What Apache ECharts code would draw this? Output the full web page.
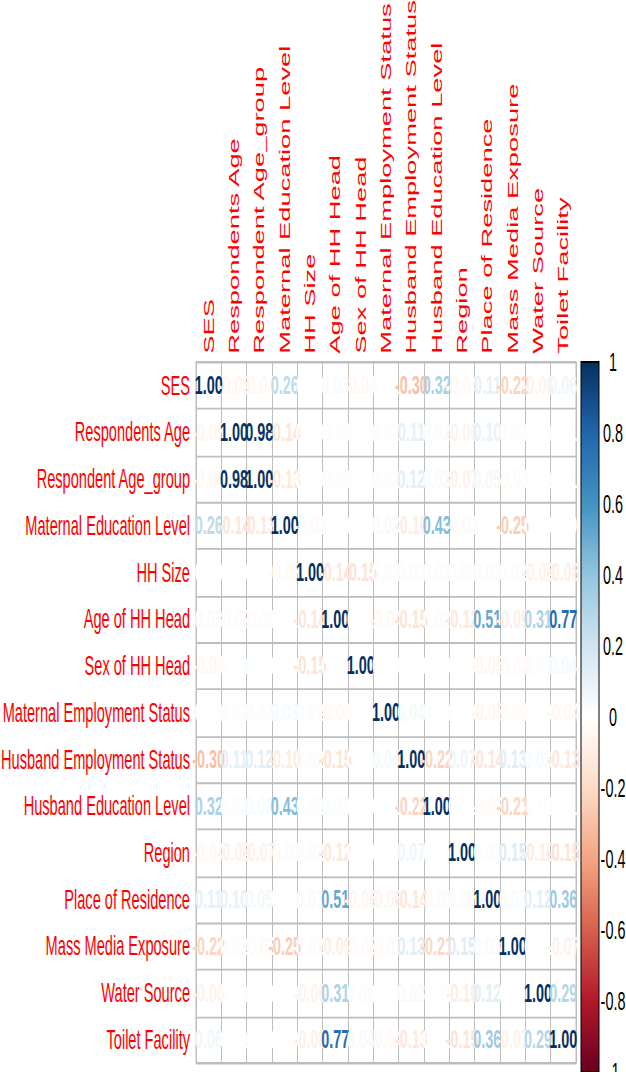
<!DOCTYPE html>
<html>
<head>
<meta charset="utf-8">
<script src="https://cdn.jsdelivr.net/npm/echarts@6/dist/echarts.min.js"></script>
<style>
  html, body { margin: 0; padding: 0; background: #fff; overflow: hidden; }
  #wrap { width: 626px; height: 1072px; overflow: hidden; position: relative; }
  #chart { width: 626px; height: 581px; transform-origin: 0 0; transform: scale(1, 1.84509); }
</style>
</head>
<body>
<div id="wrap"><div id="chart"></div></div>
<script>
// ---- data ----
const variables = [
  "SES", "Respondents Age", "Respondent Age_group", "Maternal Education Level",
  "HH Size", "Age of HH Head", "Sex of HH Head", "Maternal Employment Status",
  "Husband Employment Status", "Husband Education Level", "Region",
  "Place of Residence", "Mass Media Exposure", "Water Source", "Toilet Facility"
];
// lower triangle of the correlation matrix (row i holds columns 0..i)
const corrLower = [
  [1.00],
  [-0.05, 1.00],
  [-0.04, 0.98, 1.00],
  [0.26, -0.14, -0.13, 1.00],
  [0.00, 0.00, 0.00, -0.03, 1.00],
  [0.03, -0.02, -0.02, 0.01, -0.14, 1.00],
  [-0.04, 0.01, 0.01, 0.00, -0.15, 0.01, 1.00],
  [0.01, 0.02, 0.02, 0.03, 0.02, -0.04, 0.00, 1.00],
  [-0.30, 0.11, 0.12, -0.10, 0.02, -0.15, 0.01, 0.04, 1.00],
  [0.32, 0.02, 0.03, 0.43, 0.02, 0.02, 0.00, 0.01, -0.22, 1.00],
  [-0.04, -0.06, -0.07, -0.03, 0.02, -0.12, 0.00, 0.00, 0.07, 0.01, 1.00],
  [0.11, 0.10, 0.05, 0.01, 0.03, 0.51, -0.05, -0.05, -0.14, -0.03, 0.02, 1.00],
  [-0.22, 0.02, -0.03, -0.25, 0.02, -0.09, -0.03, -0.02, 0.13, -0.21, 0.15, 0.03, 1.00],
  [-0.06, 0.01, 0.01, 0.00, -0.06, 0.31, 0.02, 0.00, 0.03, -0.01, -0.10, 0.12, 0.01, 1.00],
  [0.06, 0.01, 0.01, 0.00, -0.08, 0.77, 0.04, -0.04, -0.13, 0.01, -0.15, 0.36, -0.07, 0.29, 1.00]
];
// colour scale from -1 to 1 (RdBu)
const paletteColors = ["#67001F", "#B2182B", "#D6604D", "#F4A582", "#FDDBC7", "#FFFFFF",
                       "#D1E5F0", "#92C5DE", "#4393C3", "#2166AC", "#053061"];
const colorbarTicks = { min: -1, max: 1, interval: 0.2 };

// ---- build ----
const n = variables.length;
function corr(i, j) { return i >= j ? corrLower[i][j] : corrLower[j][i]; }
const cells = [];
for (let i = 0; i < n; i++) for (let j = 0; j < n; j++) cells.push([j, i, corr(i, j)]);

function hex2rgb(h) { return [parseInt(h.slice(1,3),16), parseInt(h.slice(3,5),16), parseInt(h.slice(5,7),16)]; }
const palRGB = paletteColors.map(hex2rgb);
function colorOf(v) {
  const t = (Math.max(-1, Math.min(1, v)) + 1) / 2 * (palRGB.length - 1);
  const k = Math.min(Math.floor(t), palRGB.length - 2);
  const f = t - k;
  const a = palRGB[k], b = palRGB[k + 1];
  const c = a.map((x, idx) => Math.round(x + (b[idx] - x) * f));
  return 'rgb(' + c.join(',') + ')';
}

const FONT = '"Liberation Sans", Arial, Helvetica, sans-serif';
const FS = 14.4;
const chart = echarts.init(document.getElementById('chart'), null, { renderer: 'svg' });

// top of the bar (offset 0) is +1, bottom (offset 1) is -1
const topDown = paletteColors.slice().reverse();
const gradStops = topDown.map((c, i) => ({ offset: i / (topDown.length - 1), color: c }));

chart.setOption({
  animation: false,
  backgroundColor: '#ffffff',
  grid: [
    { left: 196, width: 380, top: 196.2, height: 379.9, show: true, borderColor: '#BEBEBE', borderWidth: 1,
      containLabel: false, outerBoundsMode: 'none' },
    { left: 581, width: 18, top: 196.2, bottom: 0, containLabel: false, outerBoundsMode: 'none' }
  ],
  xAxis: [
    {
      gridIndex: 0, type: 'category', data: variables, position: 'top', boundaryGap: true,
      axisLine: { show: false }, axisTick: { show: false },
      splitLine: { show: true, interval: 0, lineStyle: { color: '#BEBEBE', width: 1 } },
      axisLabel: { interval: 0, rotate: -90, margin: 4.5, color: '#FF0000', fontSize: 14.8, fontFamily: FONT }
    },
    { gridIndex: 1, type: 'value', min: 0, max: 1, show: false }
  ],
  yAxis: [
    {
      gridIndex: 0, type: 'category', data: variables, inverse: true, boundaryGap: true,
      axisLine: { show: false }, axisTick: { show: false },
      splitLine: { show: true, interval: 0, lineStyle: { color: '#BEBEBE', width: 1 } },
      axisLabel: { interval: 0, margin: 6, color: '#FF0000', fontSize: 14.6, fontFamily: FONT }
    },
    {
      gridIndex: 1, type: 'value', position: 'right',
      min: colorbarTicks.min, max: colorbarTicks.max, interval: colorbarTicks.interval,
      axisLine: { show: true, lineStyle: { color: '#000', width: 1 } },
      axisTick: { show: true, length: 4, lineStyle: { color: '#000', width: 1 } },
      splitLine: { show: false },
      axisLabel: { margin: 14, align: 'center', color: '#000', fontSize: FS, fontFamily: FONT,
        formatter: v => String(Math.round(v * 10) / 10) }
    }
  ],
  series: [
    {
      type: 'custom', xAxisIndex: 0, yAxisIndex: 0, data: cells, silent: true,
      renderItem: function (params, api) {
        const p = api.coord([api.value(0), api.value(1)]);
        const v = api.value(2);
        return {
          type: 'text', x: p[0], y: p[1],
          style: { text: v.toFixed(2), fill: colorOf(v), align: 'center', verticalAlign: 'middle',
                   font: 'bold ' + FS + 'px ' + FONT }
        };
      }
    },
    {
      type: 'custom', xAxisIndex: 1, yAxisIndex: 1, data: [[0, colorbarTicks.min, colorbarTicks.max]], silent: true,
      renderItem: function (params, api) {
        const p0 = api.coord([0, api.value(2)]);
        const p1 = api.coord([1, api.value(1)]);
        return {
          type: 'rect',
          shape: { x: p0[0], y: p0[1], width: p1[0] - p0[0], height: p1[1] - p0[1] },
          style: { fill: new echarts.graphic.LinearGradient(0, 0, 0, 1, gradStops), stroke: '#000', lineWidth: 1 }
        };
      }
    }
  ]
});
</script>
</body>
</html>
